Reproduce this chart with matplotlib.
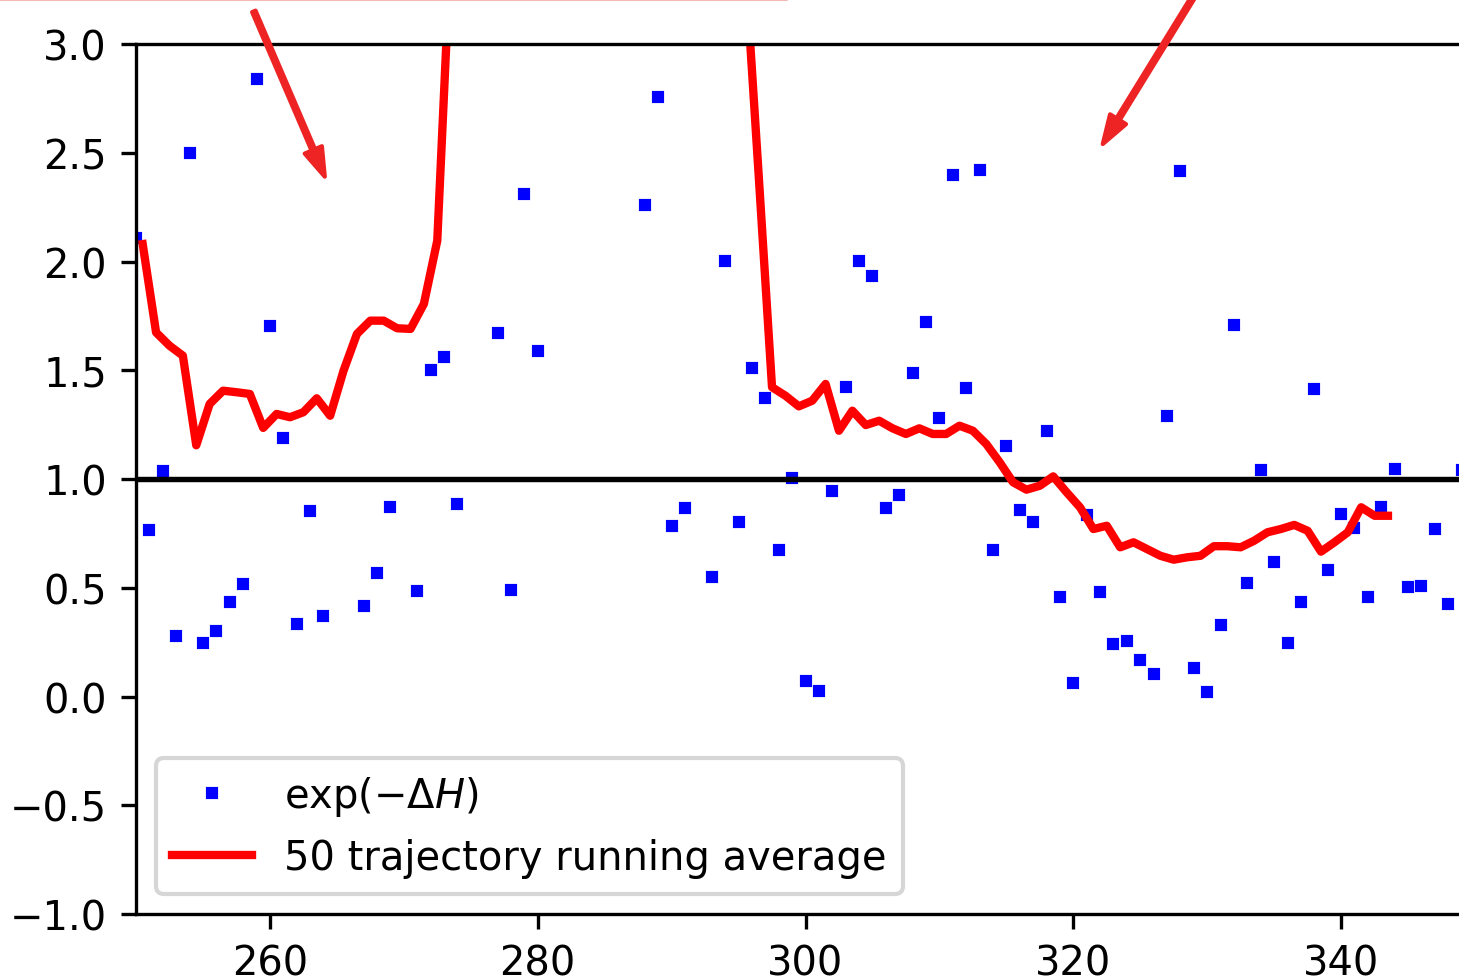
import numpy as np
import matplotlib
matplotlib.use("Agg")
import matplotlib.pyplot as plt
from matplotlib.lines import Line2D

plt.rcParams['font.size'] = 9.6

# exp(-dH) per trajectory, 250..349 (values above 3 are off the plotted range)
traj = np.arange(250, 350)
exp_dh = [2.11, 0.766, 1.038, 0.280, 2.499, 0.247, 0.303, 0.433, 0.517, 2.839,
          1.705, 1.187, 0.333, 0.854, 0.371, 4.2, 3.9, 0.418, 0.568, 0.873,
          3.4, 0.484, 1.501, 1.561, 0.887, 3.6, 5.1, 1.671, 0.490, 2.31,
          1.588, 6.5, 3.8, 4.7, 3.3, 5.9, 3.5, 4.4, 2.26, 2.755,
          0.784, 0.867, 3.2, 0.548, 2.001, 0.804, 1.510, 1.371, 0.674, 1.003,
          0.071, 0.024, 0.946, 1.422, 2.001, 1.935, 0.868, 0.926, 1.486, 1.723,
          1.280, 2.399, 1.418, 2.422, 0.675, 1.153, 0.857, 0.804, 1.219, 0.457,
          0.062, 0.836, 0.482, 0.240, 0.254, 0.169, 0.102, 1.288, 2.418, 0.130,
          0.019, 0.329, 1.708, 0.520, 1.040, 0.620, 0.246, 0.433, 1.414, 0.583,
          0.839, 0.775, 0.457, 0.870, 1.044, 0.502, 0.510, 0.770, 0.424, 1.043]

# running average, plotted at half-integer positions 250.5..343.5
run_x = np.arange(250.5, 344.0, 1.0)
run_avg = [2.08, 1.674, 1.613, 1.567, 1.155, 1.345, 1.406, 1.399, 1.391, 1.235,
           1.299, 1.284, 1.307, 1.371, 1.291, 1.498, 1.667, 1.728, 1.728, 1.693,
           1.69, 1.805, 2.096, 3.44,
           3.9, 4.3, 4.6, 4.8, 5.1, 5.3, 5.4, 5.6, 5.5, 5.7, 5.8, 5.6, 5.5, 5.3,
           5.2, 5.0, 4.8, 4.6, 4.3, 4.0, 3.7,
           3.36, 2.40,
           1.422, 1.383, 1.334, 1.360, 1.437, 1.222, 1.314, 1.248, 1.268, 1.233,
           1.207, 1.233, 1.207, 1.207, 1.245, 1.222, 1.161, 1.077, 0.985, 0.951,
           0.969, 1.012, 0.939, 0.870, 0.770, 0.785, 0.686, 0.709, 0.678, 0.647,
           0.629, 0.640, 0.647, 0.691, 0.691, 0.686, 0.716, 0.755, 0.770, 0.789,
           0.762, 0.666, 0.709, 0.755, 0.870, 0.831, 0.831]

fig = plt.figure(figsize=(1460 / 300, 978 / 300), dpi=300)
ax = fig.add_axes([136 / 1460, 63 / 978, 1339 / 1460, 870 / 978])

pts, = ax.plot(traj, exp_dh, 's', color='blue', ms=2, label=r'$\exp(-\Delta H)$')
ax.axhline(1.0, color='k', lw=1.3)
avg, = ax.plot(run_x, run_avg, '-', color='red', lw=2,
               label='50 trajectory running average')

ax.set_xlim(250, 350)
ax.set_ylim(-1.0, 3.0)
ax.set_xticks([260, 280, 300, 320, 340])
ax.set_yticks(np.arange(-1.0, 3.01, 0.5))

ax.legend(handles=[pts, avg], loc='lower left')

# arrows coming in from the (cropped) annotation texts above the plot
arrow_kw = dict(color='#ee2424', width=0.9, headwidth=4.5, headlength=7)
ax.annotate('', xy=(264.1, 2.39), xytext=(258.8, 3.15),
            arrowprops=arrow_kw, annotation_clip=False)
ax.annotate('', xy=(322.2, 2.54), xytext=(330.7, 3.39),
            arrowprops=arrow_kw, annotation_clip=False)

# edge of the cropped text box at the very top
fig.add_artist(Line2D([0, 786 / 1460], [0.9995, 0.9995], color='#f5a0a0',
                      lw=0.6, transform=fig.transFigure))

fig.savefig('out.png', dpi=300)
